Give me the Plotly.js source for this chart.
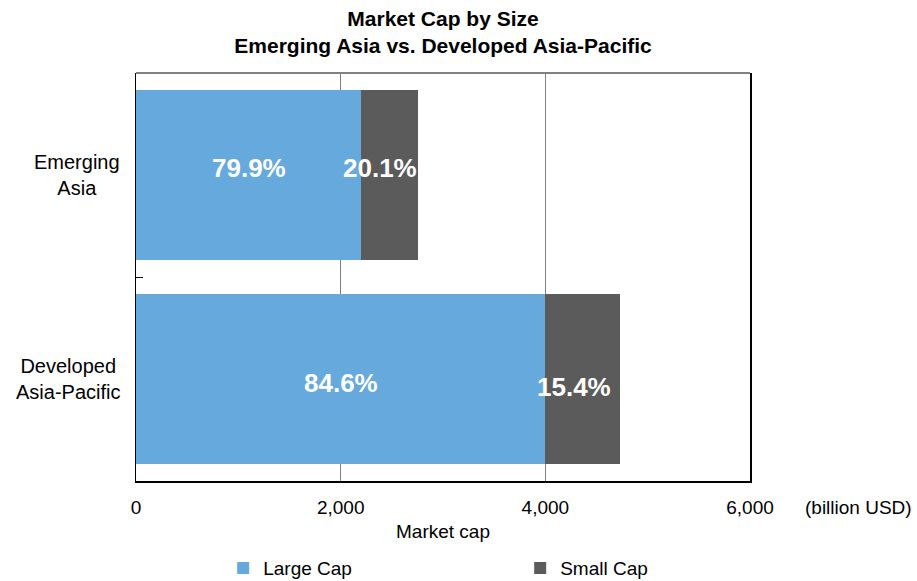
<!DOCTYPE html>
<html>
<head>
<meta charset="utf-8">
<script src="https://cdn.plot.ly/plotly-3.0.1.min.js"></script>
<style>html,body{margin:0;padding:0;background:#fff;}#chart{width:917px;height:581px;}</style>
</head>
<body>
<div id="chart"></div>
<script>
// ---- data ----
const categories = ['Emerging Asia', 'Developed Asia-Pacific'];
const categoryLabels = ['Emerging<br>Asia', 'Developed<br>Asia-Pacific'];
const largeCap = [2199, 4001];   // billion USD
const smallCap = [553, 728];     // billion USD
const largePct = ['79.9%', '84.6%'];
const smallPct = ['20.1%', '15.4%'];
const xTicks = [0, 2000, 4000, 6000];
const xTickText = ['0', '2,000', '4,000', '6,000'];

const FONT = 'Liberation Sans, Arial, sans-serif';
const blue = '#66A9DC';
const grey = '#5B5B5B';

const traces = [
  {type: 'bar', orientation: 'h', name: 'Large Cap', y: categories, x: largeCap,
   marker: {color: blue}, hoverinfo: 'x+name'},
  {type: 'bar', orientation: 'h', name: 'Small Cap', y: categories, x: smallCap,
   marker: {color: grey}, hoverinfo: 'x+name'}
];

const labelShiftY = [[7, 7], [-4, -8]];
const annotations = [];
categories.forEach((c, i) => {
  annotations.push({x: largeCap[i] / 2, y: c, xref: 'x', yref: 'y', text: largePct[i],
    showarrow: false, yshift: labelShiftY[i][0],
    font: {family: FONT, size: 26, color: '#fff', weight: 'bold'}});
  annotations.push({x: largeCap[i] + smallCap[i] / 2, y: c, xref: 'x', yref: 'y', text: smallPct[i],
    showarrow: false, xshift: -9, yshift: labelShiftY[i][1],
    font: {family: FONT, size: 26, color: '#fff', weight: 'bold'}});
  annotations.push({x: 0, xref: 'paper', y: c, yref: 'y', text: categoryLabels[i],
    xanchor: 'right', align: 'center', xshift: -14, showarrow: false,
    font: {family: FONT, size: 20, color: '#000'}});
});
annotations.push({x: 1, xref: 'paper', y: 0, yref: 'paper', xanchor: 'left', yanchor: 'middle',
  xshift: 53, yshift: -26, text: '(billion USD)', showarrow: false,
  font: {family: FONT, size: 19, color: '#000'}});

const layout = {
  width: 917, height: 581,
  margin: {l: 136, r: 167, t: 73, b: 100, autoexpand: false},
  paper_bgcolor: '#fff', plot_bgcolor: '#fff',
  font: {family: FONT, size: 19, color: '#000'},
  barmode: 'stack',
  bargap: 0.165,
  title: {text: '<b>Market Cap by Size<br>Emerging Asia vs. Developed Asia-Pacific</b>',
    font: {family: FONT, size: 21, color: '#000'},
    x: 0.5, xref: 'paper', xanchor: 'center', y: 0.955, yref: 'container', yanchor: 'top'},
  xaxis: {range: [0, 6000], tickvals: xTicks, ticktext: xTickText, ticks: '',
    ticklabelstandoff: 9, showgrid: true, gridcolor: '#808080', gridwidth: 1,
    zeroline: false, showline: true, linecolor: '#000', linewidth: 1.5, mirror: false,
    automargin: false,
    title: {text: 'Market cap', font: {family: FONT, size: 19}, standoff: 7},
    tickfont: {family: FONT, size: 19}, fixedrange: true},
  yaxis: {autorange: 'reversed', type: 'category', showticklabels: false, automargin: false,
    ticks: 'inside', tickson: 'boundaries', ticklen: 7, tickcolor: '#000', tickwidth: 1,
    showline: true, linecolor: '#000', linewidth: 1.5, mirror: true, showgrid: false,
    zeroline: false, fixedrange: true},
  shapes: [{type: 'line', xref: 'paper', yref: 'paper', x0: 0, x1: 1, y0: 1, y1: 1,
    line: {color: '#808080', width: 2}}],
  legend: {orientation: 'h', x: 0.142, xanchor: 'left', y: -0.2135, yanchor: 'middle',
    entrywidth: 252, font: {family: FONT, size: 19}, traceorder: 'normal'},
  showlegend: true,
  annotations: annotations
};

Plotly.newPlot('chart', traces, layout, {displayModeBar: false, staticPlot: true});
</script>
</body>
</html>
